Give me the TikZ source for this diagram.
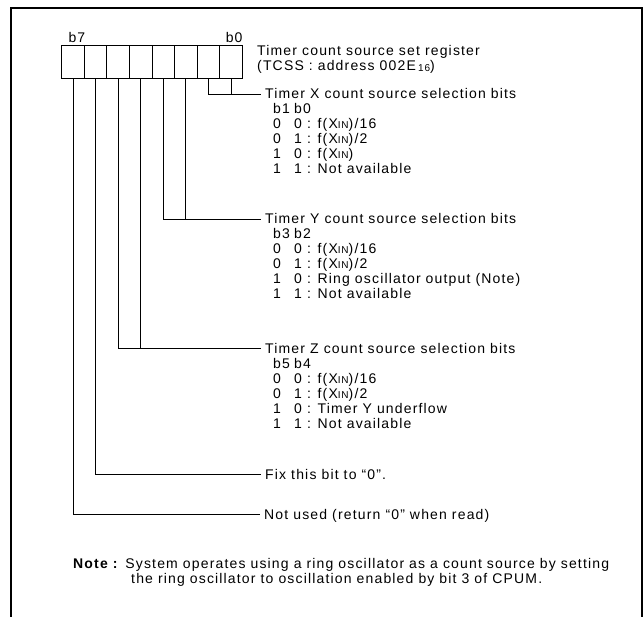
\documentclass[tikz,border=0pt]{standalone}
\usepackage{fontspec}
\setmainfont[LetterSpace=8.3]{Liberation Sans}
\usetikzlibrary{positioning}
\newcommand{\xin}{X{\fontsize{10}{10}\selectfont IN}}
\tikzset{
    % outer frame of the figure
    framebox/.style={
        line width=1.6pt
    },
    % one bit of the register
    bitcell/.style={
        rectangle,
        draw,
        line width=0.8pt,
        minimum width=22.6pt,
        minimum height=33pt,
        inner sep=0pt
    },
    bitlabel/.style={
        inner sep=0pt,
        font=\fontsize{14}{15}\selectfont
    },
    heading/.style={
        anchor=west,
        inner xsep=4pt,
        inner ysep=0pt,
        text height=10pt,
        text depth=0pt,
        font=\fontsize{14}{15}\selectfont
    },
    codes/.style={
        anchor=base west,
        inner sep=0pt,
        font=\fontsize{14}{15}\selectfont
    },
    leader/.style={
        line width=0.8pt
    }
}

\begin{document}
\begin{tikzpicture}[x=1pt, y=-1pt]
            \useasboundingbox (0,0) rectangle (644,617);
            \draw[framebox] (11,617) -- (11,8) -- (642,8) -- (642,617);

            % Register bits b7 ... b0
            \foreach \b [count=\i from 0] in {7,6,5,4,3,2,1,0}
                \node[bitcell] (b\b) at ({73+22.57*\i},61.5) {};
            \node[bitlabel, anchor=base west, xshift=7pt, yshift=2pt] (lb7) at (b7.north west) {b7};
            \node[bitlabel, anchor=base east, yshift=2pt] (lb0) at (b0.north east) {b0};

            % Register name
            \node[codes] (tcss) at (257,56) {\begin{tabular}[t]{@{}l@{}}
                Timer count source set register\\
                (TCSS : address 002E\,\raisebox{-1pt}{\fontsize{10}{10}\selectfont 16})
            \end{tabular}};

            % Timer X
            \node[heading] (xsel) at (261,94) {Timer X count source selection bits};
            \node[codes, xshift=12pt, yshift=-15pt] (xcodes) at (xsel.base west) {\begin{tabular}[t]{@{}p{21pt}@{}l@{}}
                b1 & b0\\
                0 & 0 : f(\xin)/16\\
                0 & 1 : f(\xin)/2\\
                1 & 0 : f(\xin)\\
                1 & 1 : Not available
            \end{tabular}};

            % Timer Y
            \node[heading] (ysel) at (261,219) {Timer Y count source selection bits};
            \node[codes, xshift=12pt, yshift=-15pt] (ycodes) at (ysel.base west) {\begin{tabular}[t]{@{}p{21pt}@{}l@{}}
                b3 & b2\\
                0 & 0 : f(\xin)/16\\
                0 & 1 : f(\xin)/2\\
                1 & 0 : Ring oscillator output (Note)\\
                1 & 1 : Not available
            \end{tabular}};

            % Timer Z
            \node[heading] (zsel) at (261,348) {Timer Z count source selection bits};
            \node[codes, xshift=12pt, yshift=-15pt] (zcodes) at (zsel.base west) {\begin{tabular}[t]{@{}p{21pt}@{}l@{}}
                b5 & b4\\
                0 & 0 : f(\xin)/16\\
                0 & 1 : f(\xin)/2\\
                1 & 0 : Timer Y underflow\\
                1 & 1 : Not available
            \end{tabular}};

            % b6 and b7
            \node[heading] (fixbit) at (261,474) {Fix this bit to “0”.};
            \node[heading] (unused) at (260,514) {Not used (return “0” when read)};

            % Note
            \node[codes] (note) at (73,568) {\begin{tabular}[t]{@{}l@{}}
                \textbf{Note :} System operates using a ring oscillator as a count source by setting\\
                \hspace{58pt}the ring oscillator to oscillation enabled by bit 3 of CPUM.
            \end{tabular}};

            % Leader lines
            \draw[leader] (b1.south) |- (xsel.west);
            \draw[leader] (b0.south) -- (b0.south |- xsel.west);
            \draw[leader] (b3.south) |- (ysel.west);
            \draw[leader] (b2.south) -- (b2.south |- ysel.west);
            \draw[leader] (b5.south) |- (zsel.west);
            \draw[leader] (b4.south) -- (b4.south |- zsel.west);
            \draw[leader] (b6.south) |- (fixbit.west);
            \draw[leader] (b7.south) |- (unused.west);
\end{tikzpicture}
\end{document}
